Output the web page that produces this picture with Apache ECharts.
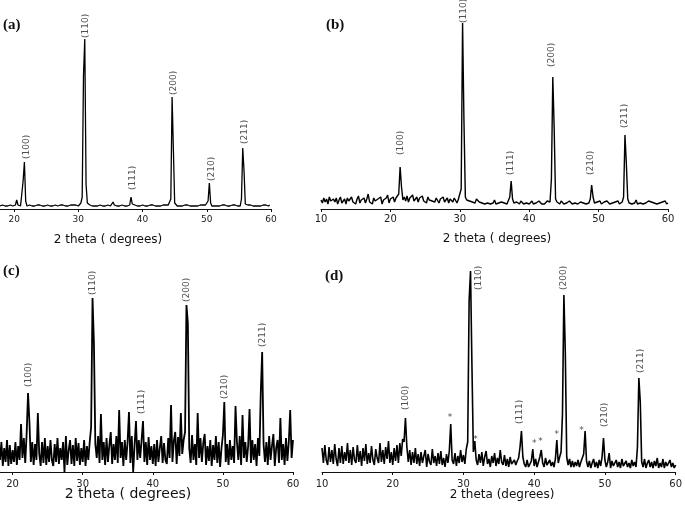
<!DOCTYPE html>
<html>
<head>
<meta charset="utf-8">
<script src="https://cdn.jsdelivr.net/npm/echarts@6/dist/echarts.min.js"></script>
<style>
html,body{margin:0;padding:0;background:#fff;}
#chart{width:685px;height:511px;}
</style>
</head>
<body>
<div id="chart"></div>
<script>
// XRD patterns, intensity (px above the axis), one point every 0.2 deg
var aStart = 17.8, aStep = 0.2;
var aValues = [
    3,3,4,3,3,2,3,3,4,3, 3,4,4,9,4,3,3,4,28,47, 8,3,3,4,3,3,4,3,3,4, 3,4,3,3,4,3,3,4,3,3,
    4,3,3,4,3,3,3,4,3,4, 3,3,4,3,3,4,3,4,3,4, 4,3,4,6,12,133,170,25,6,4, 4,5,3,4,3,4,3,3,4,3,
    3,4,3,3,4,3,3,4,7,4, 3,3,4,3,3,4,3,3,4,3, 3,4,12,5,3,4,3,3,4,3, 3,4,3,3,4,3,3,4,3,4,
    3,3,4,3,4,3,3,4,3,4, 3,4,5,10,112,59,6,4,3,4, 3,4,3,3,4,3,4,3,3,4, 3,4,3,4,3,3,4,3,4,3,
    4,3,8,26,6,3,4,3,4,3, 4,3,3,4,3,4,3,3,4,3, 3,4,3,4,3,3,4,3,10,61, 38,5,3,4,3,4,3,3,4,3,
    4,3,4,3,3,4,3,4,3,3,4
];
var bStart = 10, bStep = 0.2;
var bValues = [
    9,6,11,7,10,5,12,8,6,10, 7,11,5,9,12,6,8,10,5,11, 8,6,12,7,9,5,10,13,6,9, 7,11,6,10,15,7,9,5,11,8,
    6,10,8,12,5,9,7,11,14,6, 10,8,12,7,11,9,15,42,22,9, 12,8,13,7,11,9,14,8,10,12, 7,11,9,13,8,10,6,12,9,11,
    8,10,7,11,9,6,10,8,12,7, 9,11,6,10,8,7,11,9,6,10, 8,20,186,88,12,9,11,8,10,7, 9,6,10,8,7,9,6,8,5,7,
    6,8,5,7,6,9,5,7,6,5, 7,5,6,8,5,7,12,28,10,6, 5,7,6,5,8,6,5,7,6,8, 5,6,8,5,7,6,5,8,6,5,
    7,5,6,8,6,7,30,132,80,10, 7,6,5,8,6,5,7,6,5,8, 6,5,7,6,8,5,6,7,5,6, 8,5,7,6,10,24,12,6,5,7,
    6,8,5,6,7,5,8,6,5,7, 6,5,7,6,8,5,6,7,12,74, 45,10,6,8,5,7,6,9,5,7, 6,8,5,7,6,5,8,6,7,5,
    6,8,5,7,6,5,7,6,8,5,6
];
var cStart = 18.2, cStep = 0.2;
var cValues = [
    12,30,6,24,10,32,6,27,8,22, 10,30,7,26,12,48,14,34,9,38, 79,50,10,30,7,28,12,59,18,6, 30,9,34,7,26,10,32,12,6,28,
    10,34,8,24,12,30,0,36,7,22, 32,8,27,6,34,11,29,7,24,10, 32,6,26,12,30,45,174,129,28,14, 36,9,58,12,30,7,34,10,27,40,
    8,28,12,36,9,62,14,30,6,32, 12,30,60,9,36,0,27,51,12,32, 14,32,51,10,30,7,35,12,26,8, 28,6,32,10,24,36,9,29,12,8,
    34,14,67,10,31,40,8,35,16,59, 18,32,40,167,149,24,9,37,12,28, 7,59,14,34,10,29,38,7,26,11, 32,6,27,12,36,9,30,5,24,37,
    70,10,28,7,32,12,26,9,66,30, 12,36,7,57,14,30,10,26,63,9, 32,12,28,6,34,16,79,120,28,10, 30,7,36,12,26,38,6,24,32,9,
    54,12,28,7,34,11,30,62,14,32
];
var dStart = 10, dStep = 0.2;
var dValues = [
    24,9,27,12,7,25,10,22,8,28, 13,6,24,9,26,8,20,11,29,9, 22,7,25,12,9,27,10,21,6,24, 11,28,8,19,9,26,12,7,23,14,
    9,29,10,22,8,25,13,31,9,20, 7,24,11,27,9,29,16,33,30,54, 25,10,22,7,20,9,24,8,18,6, 20,9,16,22,5,18,10,7,23,9,
    16,6,19,8,21,7,14,5,18,9, 21,48,12,8,19,6,16,9,22,10, 17,8,23,30,171,201,106,20,31,12, 7,18,9,20,6,15,21,8,13,5,
    16,9,19,6,14,8,22,10,7,17, 6,13,5,15,8,6,12,7,11,14, 25,41,15,8,5,12,5,8,11,23, 6,13,5,10,15,22,9,5,14,7,
    5,12,6,10,5,13,32,9,15,20, 58,177,120,15,7,13,5,11,5,10, 6,12,5,10,14,18,41,11,5,11, 4,9,13,5,10,4,12,6,15,34,
    12,5,10,19,4,11,6,4,12,5, 10,4,13,6,4,11,5,9,4,12, 6,10,5,25,94,70,10,5,13,4, 9,12,5,10,4,11,6,14,4,9,
    5,13,4,10,6,4,12,5,9,4,7
];

// peak labels: where each label starts (2 theta, height)
var hklNames = ['(100)', '(110)', '(111)', '(200)', '(210)', '(211)'];
var aLabelX = [22.0, 31.2, 38.5, 44.8, 50.7, 55.9];
var aLabelY = [50, 171, 19, 114, 28, 65];
var bLabelX = [21.5, 30.6, 37.3, 43.3, 48.9, 53.7];
var bLabelY = [54, 186, 34, 142, 34, 81];
var cLabelX = [22.3, 31.4, 38.4, 44.9, 50.3, 55.6];
var cLabelY = [85, 177, 58, 170, 73, 125];
var dLabelX = [21.8, 32.2, 37.9, 44.2, 50.0, 55.0];
var dLabelY = [62, 182, 48, 182, 45, 99];
// impurity marks in (d)
var starX = [28.1, 31.7, 40.0, 40.9, 43.2, 46.7];
var starY = [56, 34, 30, 32, 39, 43];

var ticksAC = [20, 30, 40, 50, 60];
var ticksBD = [10, 20, 30, 40, 50, 60];

var lineColor = '#111';
var textColor = '#222';

function toPoints(start, step, values){
    var pts = [];
    for(var i = 0; i < values.length; i++){
        pts.push([+(start + step * i).toFixed(2), values[i]]);
    }
    return pts;
}

function toLabels(xs, ys, names){
    var out = [];
    for(var i = 0; i < xs.length; i++){
        out.push({name: names ? names[i] : '*', value: [xs[i], ys[i]]});
    }
    return out;
}

function makeX(idx, min, max, ticks, fontSize, margin){
    return {
        gridIndex: idx,
        type: 'value',
        min: min,
        max: max,
        axisLine: {lineStyle: {color: lineColor, width: 1}},
        axisTick: {customValues: ticks, length: 3, lineStyle: {color: lineColor}},
        axisLabel: {
            customValues: ticks,
            fontSize: fontSize,
            fontFamily: 'DejaVu Sans',
            color: textColor,
            margin: margin
        },
        splitLine: {show: false}
    };
}

function makeY(idx){
    return {gridIndex: idx, type: 'value', min: 0, max: 200, show: false};
}

function lineSeries(idx, start, step, values, width){
    return {
        type: 'line',
        xAxisIndex: idx,
        yAxisIndex: idx,
        data: toPoints(start, step, values),
        showSymbol: false,
        clip: false,
        lineStyle: {color: '#000', width: width},
        animation: false
    };
}

function labelSeries(idx, xs, ys){
    return {
        type: 'scatter',
        xAxisIndex: idx,
        yAxisIndex: idx,
        symbolSize: 0,
        silent: true,
        animation: false,
        data: toLabels(xs, ys, hklNames),
        label: {
            show: true,
            position: 'top',
            distance: 0,
            rotate: 90,
            align: 'left',
            verticalAlign: 'middle',
            fontSize: 9,
            fontFamily: 'DejaVu Sans',
            color: textColor,
            formatter: '{b}'
        }
    };
}

function txt(x, y, text, font, align){
    return {
        type: 'text',
        x: x,
        y: y,
        style: {text: text, font: font, fill: '#111', align: align || 'left', verticalAlign: 'middle'}
    };
}

var chart = echarts.init(document.getElementById('chart'));
var option = {
    backgroundColor: '#fff',
    animation: false,
    grid: [
        {left: 0, top: 9, width: 271, height: 200},
        {left: 321, top: 9, width: 347, height: 200},
        {left: 0, top: 272, width: 293, height: 200},
        {left: 322, top: 272, width: 356, height: 200}
    ],
    xAxis: [
        makeX(0, aStart, 60, ticksAC, 9, 6),
        makeX(1, bStart, 60, ticksBD, 10, 5),
        makeX(2, cStart, 60, ticksAC, 10, 7),
        makeX(3, dStart, 60, ticksBD, 10, 7)
    ],
    yAxis: [makeY(0), makeY(1), makeY(2), makeY(3)],
    series: [
        lineSeries(0, aStart, aStep, aValues, 1.3),
        lineSeries(1, bStart, bStep, bValues, 1.4),
        lineSeries(2, cStart, cStep, cValues, 1.8),
        lineSeries(3, dStart, dStep, dValues, 1.6),
        labelSeries(0, aLabelX, aLabelY),
        labelSeries(1, bLabelX, bLabelY),
        labelSeries(2, cLabelX, cLabelY),
        labelSeries(3, dLabelX, dLabelY),
        {
            type: 'scatter',
            xAxisIndex: 3,
            yAxisIndex: 3,
            symbolSize: 0,
            silent: true,
            animation: false,
            data: toLabels(starX, starY),
            label: {
                show: true,
                position: 'inside',
                offset: [0, 2],
                fontSize: 9,
                fontFamily: 'DejaVu Sans',
                color: textColor,
                formatter: '*'
            }
        }
    ],
    graphic: [
        txt(3, 25, '(a)', 'bold 15px "Liberation Serif"'),
        txt(326, 25, '(b)', 'bold 15px "Liberation Serif"'),
        txt(3, 271, '(c)', 'bold 15px "Liberation Serif"'),
        txt(325, 276, '(d)', 'bold 15px "Liberation Serif"'),
        txt(108, 240, '2 theta ( degrees)', '12px "DejaVu Sans"', 'center'),
        txt(497, 239, '2 theta ( degrees)', '12px "DejaVu Sans"', 'center'),
        txt(128, 494, '2 theta ( degrees)', '14px "DejaVu Sans"', 'center'),
        txt(502, 495, '2 theta (degrees)', '12px "DejaVu Sans"', 'center')
    ]
};
chart.setOption(option);
</script>
</body>
</html>
